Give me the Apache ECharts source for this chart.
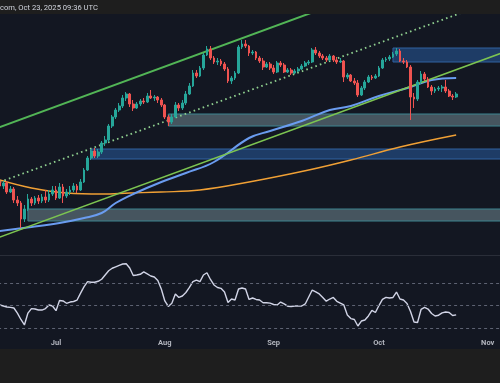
<!DOCTYPE html>
<html><head><meta charset="utf-8">
<script src="https://cdn.jsdelivr.net/npm/echarts@6/dist/echarts.min.js"></script>
<style>html,body{margin:0;padding:0;background:#131722}#c{width:500px;height:383px}</style>
</head><body><div id="c"></div>
<script>
// ---- data ----
const headerText = 'com, Oct 23, 2025 09:36 UTC';
const monthNames = ['Jan','Feb','Mar','Apr','May','Jun','Jul','Aug','Sep','Oct','Nov','Dec'];
const firstDay = [2025, 5, 15];   // 2025-06-15
const dayCount = 150;             // axis runs past the right edge

// daily candles: [open, close, low, high]
const candles = [
[74,69,66,76],[69,72,66,74],[72,63,61,74],[63,66,62,69],[66,55,52,68],[55,52,49,59],[52,36,27,54],[36,46,33,50],
[46,56,44,61],[56,52,49,58],[52,57,50,59],[57,54,51,60],[54,58,52,61],[58,55,52,65],[55,61,53,65],[61,65,59,69],
// Jul
[65,57,55,69],[57,68,56,72],[68,59,52,71],[59,63,57,66],[63,65,60,69],[65,69,63,72],[69,65,62,71],[65,73,64,76],
[73,85,72,87],[85,97,84,99],[97,104,95,106],[104,99,97,107],[99,103,97,106],[103,112,101,114],[112,115,109,119],
[115,129,113,131],[129,138,127,140],[138,145,136,147],[145,149,143,152],[149,157,147,160],[157,161,154,163],
[161,151,148,162],[151,147,144,155],[147,151,146,153],[151,154,149,156],[154,153,151,157],[153,159,152,162],
[159,157,156,165],[157,158,154,160],[158,155,152,159],[155,150,148,157],
// Aug
[150,138,136,151],[138,133,129,140],[133,138,131,141],[138,150,137,153],[150,147,144,152],[147,152,145,155],
[152,161,150,164],[161,169,160,172],[169,182,168,185],[182,179,177,185],[179,187,178,189],[187,200,185,202],
[200,206,199,209],[206,197,195,209],[197,193,191,199],[193,194,190,197],[194,191,189,196],[191,186,184,193],
[186,174,172,188],[174,177,171,179],[177,182,175,184],[182,208,181,210],[208,211,206,215],[211,209,207,215],
[209,202,199,210],[202,203,200,205],[203,197,195,204],[197,194,192,199],[194,188,185,197],[188,191,187,193],
[191,187,185,193],
// Sep
[187,183,181,190],[183,192,182,194],[192,190,188,194],[190,183,182,192],[183,185,182,187],[185,182,180,187],
[182,184,181,186],[184,186,183,188],[186,189,185,191],[189,192,188,194],[192,193,190,195],[193,205,192,207],
[205,202,200,208],[202,199,197,204],[199,197,195,201],[197,195,193,199],[195,199,194,201],[199,195,193,200],
[195,193,191,198],[193,194,192,197],[194,178,173,195],[178,180,176,182],[180,174,173,181],[174,172,170,177],
[172,160,158,175],[160,167,159,169],[167,173,165,175],[173,178,172,180],[178,177,175,180],[177,179,176,181],
// Oct
[179,187,178,189],[187,195,186,197],[195,196,193,198],[196,198,194,200],[198,201,197,203],[201,204,199,207],
[204,194,193,206],[194,193,191,197],[193,188,187,195],[188,158,135,190],[158,156,147,162],[156,173,154,175],
[173,181,171,184],[181,176,174,183],[176,168,167,178],[168,164,160,170],[164,166,162,168],[166,167,164,169],
[167,168,163,170],[168,164,162,175],[164,159,158,166],[159,158,155,161],[158,161,157,163]
];

const rsi = [
50.4,49.5,48.6,48.3,47.7,43.2,37.5,32.6,43.2,47.2,46.8,45.9,45.9,47.2,50.4,49.5,
45.3,54.4,54,51.9,53,53.5,54.8,61,66.7,71.2,70.6,70.6,71.5,73.3,77.1,80.9,83.1,84.4,85.7,86.9,87.1,83.3,76.6,77.1,77.7,79.8,78,76.2,75.3,72.2,64.6,
54,49.1,51.9,60.2,57.1,58.4,61.5,66,71.2,72.6,71.2,77.1,79.1,73.1,68.2,66,65.2,61.9,52.6,55.7,54.8,64.6,65.5,64.6,55.3,56.6,55.3,54.8,52.4,52.4,52,
50.8,50.4,53,51.3,49.3,49,49.5,49.5,49.5,51.3,57.5,63.7,62.1,60.2,57.1,53.8,55.7,57.1,53.7,52.1,50.4,41.5,38.3,37.5,31.7,36.1,37,40.6,45.5,43.7,
49.9,55.4,57.2,56.6,57.1,61.9,55.7,54.8,51.7,44.6,35.2,34.8,46.4,48.3,46.8,42.8,40.6,41.3,43.4,44.1,43.7,41,41.6
];
const rsiLevels = [70, 50, 30];

const maBlue = [['2025-06-15',24],['2025-06-24',28],['2025-07-02',32],['2025-07-09',37],['2025-07-14',42],
  ['2025-07-18',52],['2025-07-23',61],['2025-07-31',73],['2025-08-07',82],['2025-08-15',93],['2025-08-25',117],
  ['2025-08-31',124],['2025-09-09',134],['2025-09-17',145],['2025-09-23',149],['2025-10-01',159],
  ['2025-10-10',168],['2025-10-16',175],['2025-10-23',177]];
const maOrange = [['2025-06-15',75],['2025-06-24',67],['2025-07-04',62],['2025-07-14',61],['2025-07-22',62],
  ['2025-07-31',63],['2025-08-11',65],['2025-08-25',73],['2025-09-11',85],['2025-09-23',95],
  ['2025-10-07',108],['2025-10-23',120]];

const channelUpper = [['2025-06-15',128],['2025-11-05',312]];
const channelMid   = [['2025-06-15',73], ['2025-11-05',257]];
const channelLower = [['2025-06-15',18], ['2025-11-05',202]];

const zones = [
  {from:'2025-10-05', low:193, high:207, kind:'blue'},
  {from:'2025-08-02', low:129, high:141, kind:'gray'},
  {from:'2025-07-11', low:96,  high:106, kind:'blue'},
  {from:'2025-06-23', low:34,  high:46,  kind:'gray'}
];

// ---- build ----
const dates = [];
{ const d = new Date(Date.UTC(firstDay[0], firstDay[1], firstDay[2]));
  for (let i = 0; i < dayCount; i++) { dates.push(d.toISOString().slice(0,10)); d.setUTCDate(d.getUTCDate()+1); } }
const lastDate = dates[dates.length-1];

const zoneStyle = {
  blue: {color:'#1e3c66', borderColor:'#3163a0', borderWidth:1},
  gray: {color:'#46555f', borderColor:'#3d8590', borderWidth:1}
};

const dayW = 3.51;
const gridL = -1.9, gridW = dayCount * dayW;
const chart = echarts.init(document.getElementById('c'), null, {renderer:'canvas'});
chart.setOption({
  backgroundColor:'#131722',
  animation:false,
  grid:[
    {left:gridL, width:gridW, top:14, height:241, outerBoundsMode:'none', containLabel:false},
    {left:gridL, width:gridW, top:256, height:82, outerBoundsMode:'none', containLabel:false}
  ],
  xAxis:[
    {type:'category', data:dates, gridIndex:0, show:false},
    {type:'category', data:dates, gridIndex:1,
     axisLine:{show:false}, axisTick:{show:false}, splitLine:{show:false},
     axisLabel:{interval:(i,v)=>v.endsWith('-01'), formatter:v=>monthNames[+v.slice(5,7)-1],
       color:'#b2b5be', fontSize:7.5, fontWeight:'bold', fontFamily:'Roboto', margin:1}}
  ],
  yAxis:[
    {type:'value', gridIndex:0, min:0, max:241, show:false},
    {type:'value', gridIndex:1, min:21, max:94, show:false}
  ],
  graphic:[
    {type:'rect', z:100, shape:{x:0,y:0,width:500,height:14}, style:{fill:'#1e1e1e'}},
    {type:'text', z:101, x:0, y:8, style:{text:headerText, fill:'#d1d4dc', fontSize:7.6, fontFamily:'Roboto', verticalAlign:'middle'}},
    {type:'line', z:100, shape:{x1:0,y1:255.5,x2:500,y2:255.5}, style:{stroke:'#2a2e39', lineWidth:1}},
    {type:'rect', z:100, shape:{x:0,y:349,width:500,height:34}, style:{fill:'#1e1e1e'}}
  ],
  series:[
    {type:'line', xAxisIndex:0, yAxisIndex:0, data:[], z:1, silent:true,
     markArea:{silent:true, data: zones.map(z=>[
       {xAxis:z.from, yAxis:z.high, itemStyle:zoneStyle[z.kind]},
       {xAxis:lastDate, yAxis:z.low}])}},
    {type:'line', data:maOrange, smooth:0.4, showSymbol:false, z:3, lineStyle:{color:'#f0a035', width:1.4}},
    {type:'line', data:maBlue, smooth:0.4, showSymbol:false, z:3, lineStyle:{color:'#6a9cf0', width:2}},
    {type:'line', data:channelLower, showSymbol:false, z:3, lineStyle:{color:'#7cc451', width:1.5}},
    {type:'line', data:channelUpper, showSymbol:false, z:3, lineStyle:{color:'#52b556', width:2}},
    {type:'line', data:channelMid, showSymbol:false, z:3, lineStyle:{color:'#8fcf8f', width:1.8, type:[1.6,3.2]}},
    {type:'candlestick', data:candles, z:5, barWidth:2.3,
     itemStyle:{color:'#26a69a', color0:'#ef5350', borderColor:'#26a69a', borderColor0:'#ef5350', borderWidth:1}},
    {type:'line', xAxisIndex:1, yAxisIndex:1, data:rsi, showSymbol:false, z:3,
     lineStyle:{color:'#d1d4e6', width:1.4},
     markLine:{silent:true, symbol:'none', label:{show:false},
       lineStyle:{color:'#5d6272', type:[3,3], width:1},
       data: rsiLevels.map(v=>({yAxis:v}))}}
  ]
});
</script></body></html>
